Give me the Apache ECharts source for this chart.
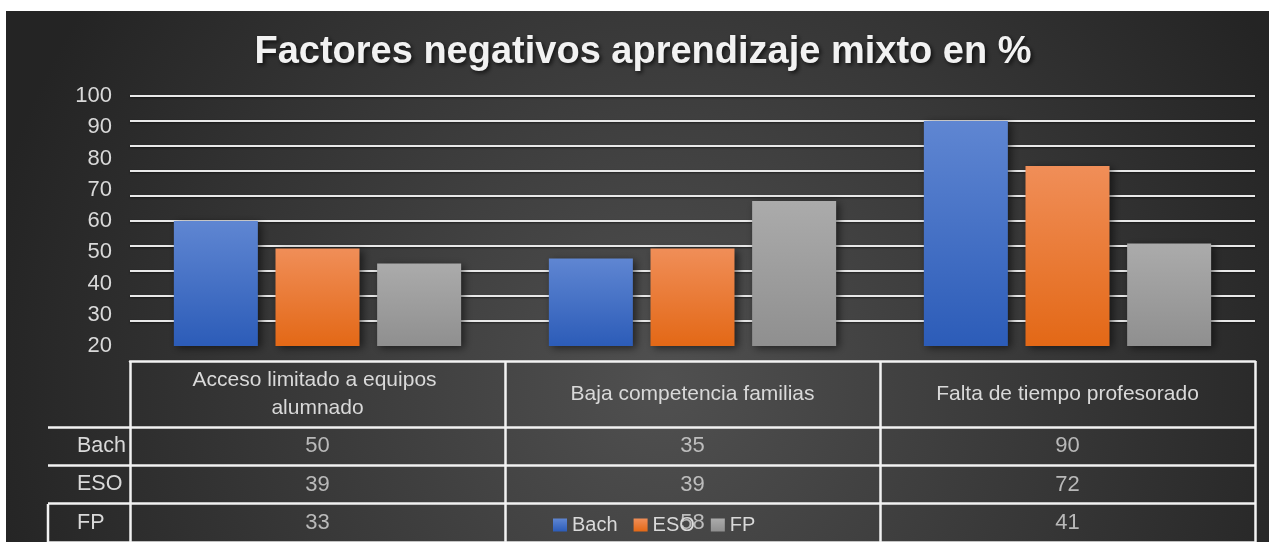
<!DOCTYPE html>
<html>
<head>
<meta charset="utf-8">
<script src="https://cdn.jsdelivr.net/npm/echarts@6/dist/echarts.min.js"></script>
<style>
  html, body { margin: 0; padding: 0; background: #ffffff; width: 1269px; height: 542px; overflow: hidden; }
  #c { position: absolute; left: 6px; top: 11px; width: 1263px; height: 531px; }
</style>
</head>
<body>
<div id="c"></div>
<script>
// ---- data ----
const titleText = 'Factores negativos aprendizaje mixto en %';
const categories = ['Acceso limitado a equipos alumnado', 'Baja competencia familias', 'Falta de tiempo profesorado'];
const seriesNames = ['Bach', 'ESO', 'FP'];
const bachValues = [50, 35, 90];
const esoValues = [39, 39, 72];
const fpValues = [33, 58, 41];
const labelAxisMin = 20;   // the printed tick labels run 20..100
const labelAxisMax = 100;
const valueAxisMin = 0;
const valueAxisMax = 100;
const tickStep = 10;

// ---- styling ----
const FONT = '"Liberation Sans", Arial, sans-serif';
const TXT = '#d9d9d9';
const LINE = '#f2f2f2';
const seriesColors = [
  ['#5f86d2', '#2c5cb8'],
  ['#f08e58', '#e36816'],
  ['#ababab', '#8f8f8f']
];
const allValues = [bachValues, esoValues, fpValues];

function grad(c) {
  return { type: 'linear', x: 0, y: 0, x2: 0, y2: 1,
    colorStops: [{ offset: 0, color: c[0] }, { offset: 1, color: c[1] }] };
}

const barSeries = seriesNames.map((name, s) => ({
  name: name,
  type: 'bar',
  xAxisIndex: 0,
  yAxisIndex: 0,
  data: allValues[s],
  barWidth: 84,
  barGap: '21%',
  itemStyle: {
    color: grad(seriesColors[s]),
    shadowBlur: 8,
    shadowColor: 'rgba(0,0,0,0.55)',
    shadowOffsetX: 3,
    shadowOffsetY: 2
  }
}));

// table cells: [categoryIndex, rowIndex, value]
const tableData = [];
allValues.forEach((vals, s) => vals.forEach((v, i) => tableData.push([i, s, v])));

const option = {
  animation: false,
  backgroundColor: {
    type: 'radial', x: 0.52, y: 0.7, r: 1.3,
    colorStops: [{ offset: 0, color: '#505050' }, { offset: 1, color: '#242424' }]
  },
  title: {
    text: titleText,
    left: 637,
    textAlign: 'center',
    top: 23,
    padding: 0,
    textStyle: {
      fontFamily: FONT, fontSize: 38, fontWeight: 'bold', color: '#f2f2f2',
      textShadowColor: 'rgba(0,0,0,0.7)', textShadowBlur: 4,
      textShadowOffsetX: 2, textShadowOffsetY: 2
    }
  },
  legend: {
    data: seriesNames,
    left: 542,
    top: 499,
    itemWidth: 14,
    itemHeight: 13,
    itemGap: 16,
    icon: 'rect',
    textStyle: { color: TXT, fontFamily: FONT, fontSize: 20 },
    itemStyle: { shadowBlur: 0, shadowOffsetX: 0, shadowOffsetY: 0 }
  },
  grid: [
    { left: 124, right: 14, top: 85, height: 250 },
    { left: 124, right: 14, top: 416, height: 115 }
  ],
  xAxis: [
    {
      type: 'category', gridIndex: 0, position: 'bottom', data: categories,
      offset: 15,
      axisLine: { show: true, onZero: false, lineStyle: { color: LINE, width: 2.5 } },
      axisTick: { show: true, length: 66, lineStyle: { color: LINE, width: 2.5 } },
      axisLabel: {
        interval: 0, margin: 33, verticalAlign: 'middle', align: 'center',
        color: TXT, fontFamily: FONT, fontSize: 21, lineHeight: 28,
        width: 300, overflow: 'break', hideOverlap: false
      },
      splitLine: { show: false }
    },
    {
      type: 'category', gridIndex: 1, position: 'bottom', data: categories,
      axisLine: { show: false, onZero: false },
      axisTick: { show: false },
      axisLabel: { show: false },
      splitLine: { show: true, lineStyle: { color: LINE, width: 2.5 } }
    }
  ],
  yAxis: [
    {
      type: 'value', gridIndex: 0, position: 'left',
      min: valueAxisMin, max: valueAxisMax, interval: tickStep,
      axisLine: { show: false }, axisTick: { show: false },
      axisLabel: { show: false },
      splitLine: { show: true, showMinLine: false, lineStyle: { color: '#e8e8e8', width: 2,
        shadowColor: 'rgba(0,0,0,0.5)', shadowBlur: 2, shadowOffsetY: 1 } }
    },
    {
      type: 'value', gridIndex: 0, position: 'left',
      min: labelAxisMin, max: labelAxisMax, interval: tickStep,
      axisLine: { show: false }, axisTick: { show: false },
      splitLine: { show: false },
      axisLabel: { show: true, margin: 18, color: TXT, fontFamily: FONT, fontSize: 22 }
    },
    {
      type: 'category', gridIndex: 1, position: 'left', inverse: true, data: seriesNames,
      axisLine: { show: false, onZero: false },
      axisTick: { show: true, length: 82, lineStyle: { color: LINE, width: 2.5 } },
      axisLabel: { show: true, align: 'left', margin: 53, color: TXT, fontFamily: FONT, fontSize: 21.5 },
      splitLine: { show: true, lineStyle: { color: LINE, width: 2.5 } }
    }
  ],
  graphic: [
    { type: 'line', shape: { x1: 42, y1: 493, x2: 42, y2: 531 }, style: { stroke: LINE, lineWidth: 2.5 }, silent: true }
  ],
  series: barSeries.concat([
    {
      name: 'tabla',
      type: 'scatter',
      xAxisIndex: 1,
      yAxisIndex: 2,
      data: tableData,
      symbolSize: 2,
      itemStyle: { color: 'rgba(0,0,0,0)' },
      silent: true,
      z: 1,
      label: {
        show: true, position: 'inside',
        formatter: p => String(p.value[2]),
        color: TXT, fontFamily: FONT, fontSize: 22
      }
    }
  ])
};

const chart = echarts.init(document.getElementById('c'));
chart.setOption(option);
</script>
</body>
</html>
